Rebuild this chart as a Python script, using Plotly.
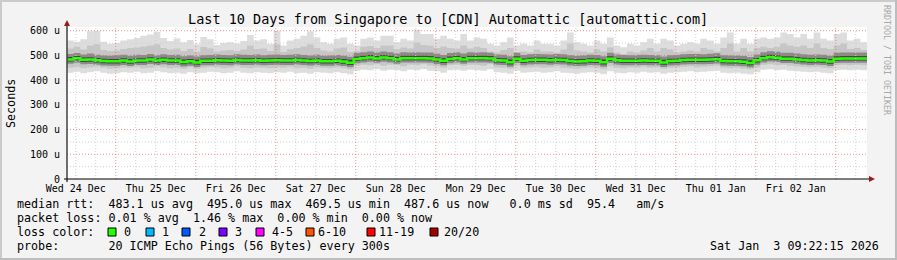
import plotly.graph_objects as go
from datetime import datetime, timedelta

# ---------------- data ----------------
end_time = datetime(2026, 1, 3, 9, 22, 15)
start_time = end_time - timedelta(days=10)
step_hours = 2

median_rtt = [
    484, 489, 482, 483, 480, 477, 476, 476, 479, 475,
    479, 479, 483, 479, 482, 479, 479, 473, 476, 471,
    478, 478, 480, 479, 478, 481, 479, 479, 480, 478,
    479, 480, 479, 479, 481, 479, 477, 479, 476, 476,
    478, 475, 470, 486, 489, 492, 488, 492, 489, 484,
    489, 489, 489, 489, 488, 483, 478, 486, 489, 484,
    489, 489, 489, 488, 480, 479, 472, 487, 478, 481,
    482, 482, 480, 482, 481, 477, 475, 476, 479, 478,
    472, 487, 480, 478, 478, 478, 479, 478, 478, 471,
    477, 478, 481, 482, 482, 482, 483, 485, 477, 476,
    476, 474, 469, 480, 489, 493, 491, 487, 487, 484,
    481, 479, 480, 479, 475, 487, 488, 488, 488, 488,
]

smoke_top_1 = [
    560, 555, 565, 598, 600, 555, 547, 550, 560, 565,
    570, 580, 585, 595, 570, 558, 568, 553, 562, 545,
    575, 565, 542, 550, 553, 548, 558, 583, 560, 565,
    547, 600, 540, 560, 567, 580, 598, 573, 553, 547,
    567, 573, 547, 540, 567, 573, 560, 580, 580, 553,
    567, 560, 605, 587, 587, 567, 580, 567, 560, 587,
    560, 573, 567, 547, 540, 553, 573, 540, 547, 540,
    560, 547, 547, 540, 560, 593, 553, 547, 540, 560,
    547, 573, 540, 533, 547, 540, 553, 567, 547, 567,
    560, 540, 547, 553, 547, 567, 560, 547, 573, 593,
    547, 567, 547, 567, 573, 567, 573, 593, 587, 573,
    587, 567, 593, 567, 560, 587, 593, 560, 567, 553,
]
smoke_bot_1 = [
    430, 434, 428, 432, 436, 430, 426, 428, 432, 430,
    434, 428, 430, 436, 432, 428, 430, 426, 432, 428,
    430, 434, 432, 428, 430, 436, 430, 428, 432, 430,
    428, 432, 430, 434, 428, 430, 426, 432, 430, 428,
    432, 428, 424, 438, 442, 440, 444, 438, 442, 440,
    436, 442, 440, 444, 438, 436, 430, 440, 442, 438,
    442, 440, 438, 444, 432, 430, 426, 438, 430, 432,
    434, 430, 432, 436, 430, 428, 426, 430, 432, 430,
    424, 436, 430, 428, 432, 430, 434, 430, 432, 426,
    430, 432, 434, 436, 432, 434, 436, 438, 430, 428,
    430, 426, 424, 432, 442, 444, 440, 442, 438, 436,
    434, 432, 434, 430, 428, 440, 442, 440, 442, 440,
]
smoke_top_2 = [
    528, 535, 524, 540, 545, 522, 518, 520, 526, 530,
    532, 536, 540, 545, 530, 524, 528, 518, 526, 515,
    534, 528, 516, 520, 522, 518, 524, 540, 526, 528,
    518, 545, 514, 525, 530, 536, 545, 530, 520, 516,
    528, 532, 514, 518, 535, 538, 530, 540, 540, 525,
    532, 528, 552, 542, 540, 530, 536, 530, 528, 540,
    528, 535, 530, 516, 512, 522, 530, 512, 516, 512,
    524, 516, 516, 512, 524, 548, 520, 516, 512, 524,
    516, 532, 512, 506, 516, 512, 520, 530, 516, 530,
    524, 512, 516, 520, 516, 530, 524, 516, 530, 548,
    516, 530, 516, 530, 535, 530, 535, 548, 540, 535,
    540, 530, 548, 530, 526, 540, 548, 526, 530, 522,
]
smoke_bot_2 = [
    450, 454, 448, 452, 455, 450, 446, 448, 452, 450,
    454, 448, 450, 456, 452, 448, 450, 446, 452, 446,
    450, 454, 452, 448, 450, 456, 450, 448, 452, 450,
    448, 452, 450, 454, 448, 450, 446, 452, 450, 448,
    452, 448, 444, 458, 462, 460, 464, 458, 462, 460,
    456, 462, 460, 464, 458, 456, 450, 460, 462, 458,
    462, 460, 458, 464, 452, 450, 446, 458, 450, 452,
    454, 450, 452, 456, 450, 448, 446, 450, 452, 450,
    444, 456, 450, 448, 452, 450, 454, 450, 452, 446,
    450, 452, 454, 456, 452, 454, 456, 458, 450, 448,
    450, 446, 444, 452, 462, 464, 460, 462, 458, 456,
    454, 452, 454, 450, 448, 460, 462, 460, 462, 460,
]
smoke_top_3 = [
    506, 510, 504, 508, 503, 500, 499, 501, 503, 499,
    503, 502, 506, 501, 505, 502, 503, 497, 500, 496,
    501, 502, 504, 502, 501, 505, 503, 502, 504, 501,
    503, 504, 502, 503, 505, 502, 500, 503, 499, 500,
    502, 499, 495, 510, 513, 516, 512, 516, 513, 508,
    513, 512, 513, 512, 512, 507, 502, 510, 513, 508,
    513, 512, 513, 511, 504, 503, 497, 511, 502, 505,
    506, 505, 504, 506, 505, 501, 499, 500, 503, 502,
    497, 511, 504, 502, 501, 502, 503, 502, 501, 496,
    501, 502, 505, 506, 506, 505, 507, 509, 501, 500,
    500, 498, 494, 504, 513, 517, 515, 511, 511, 508,
    505, 503, 504, 503, 499, 511, 512, 512, 512, 512,
]
smoke_bot_3 = [
    466, 470, 464, 465, 462, 459, 458, 458, 461, 457,
    461, 461, 465, 461, 464, 461, 461, 455, 458, 453,
    460, 460, 462, 461, 460, 463, 461, 461, 462, 460,
    461, 462, 461, 461, 463, 461, 459, 461, 458, 458,
    460, 457, 452, 468, 471, 474, 470, 474, 471, 466,
    471, 471, 471, 471, 470, 465, 460, 468, 471, 466,
    471, 471, 471, 470, 462, 461, 454, 469, 460, 463,
    464, 464, 462, 464, 463, 459, 457, 458, 461, 460,
    454, 469, 462, 460, 460, 460, 461, 460, 460, 453,
    459, 460, 463, 464, 464, 464, 465, 467, 459, 458,
    458, 456, 451, 462, 471, 475, 473, 469, 469, 466,
    463, 461, 462, 461, 457, 469, 470, 470, 470, 470,
]
smoke_top_4 = [
    494, 498, 492, 493, 490, 487, 486, 486, 489, 486,
    489, 489, 493, 489, 492, 489, 489, 484, 486, 482,
    488, 488, 490, 489, 488, 491, 489, 489, 490, 488,
    489, 490, 489, 489, 491, 489, 487, 489, 486, 486,
    488, 486, 482, 496, 499, 502, 498, 502, 499, 494,
    499, 499, 499, 499, 498, 493, 489, 496, 499, 494,
    499, 499, 499, 498, 490, 489, 483, 497, 488, 491,
    492, 492, 490, 492, 491, 487, 486, 486, 489, 488,
    483, 497, 490, 488, 488, 488, 489, 488, 488, 482,
    487, 488, 491, 492, 492, 492, 493, 495, 487, 486,
    486, 485, 480, 490, 499, 503, 501, 497, 497, 494,
    491, 489, 490, 489, 486, 497, 498, 498, 498, 498,
]
smoke_bot_4 = [
    475, 480, 473, 474, 471, 468, 467, 467, 470, 466,
    470, 470, 474, 470, 473, 470, 470, 464, 467, 462,
    469, 469, 471, 470, 469, 472, 470, 470, 471, 469,
    470, 471, 470, 470, 472, 470, 468, 470, 467, 467,
    469, 466, 461, 477, 480, 483, 479, 483, 480, 475,
    480, 480, 480, 480, 479, 474, 469, 477, 480, 475,
    480, 480, 480, 479, 471, 470, 463, 478, 469, 472,
    473, 473, 471, 473, 472, 468, 466, 467, 470, 469,
    463, 478, 471, 469, 469, 469, 470, 469, 469, 462,
    468, 469, 472, 473, 473, 473, 474, 476, 468, 467,
    467, 465, 460, 471, 480, 484, 482, 478, 478, 475,
    472, 470, 471, 470, 466, 478, 479, 479, 479, 479,
]

day_labels = ["Wed 24 Dec", "Thu 25 Dec", "Fri 26 Dec", "Sat 27 Dec", "Sun 28 Dec",
              "Mon 29 Dec", "Tue 30 Dec", "Wed 31 Dec", "Thu 01 Jan", "Fri 02 Jan"]
first_label_noon = datetime(2025, 12, 24, 12, 0, 0)
y_tick_vals = [0, 100, 200, 300, 400, 500, 600]
y_tick_text = ["0", "100 u", "200 u", "300 u", "400 u", "500 u", "600 u"]

title_text = "Last 10 Days from Singapore to [CDN] Automattic [automattic.com]"
legend_lines = [
    "median rtt:  483.1 us avg  495.0 us max  469.5 us min  487.6 us now   0.0 ms sd  95.4   am/s",
    "packet loss: 0.01 % avg  1.46 % max  0.00 % min  0.00 % now",
    "loss color:",
    "probe:       20 ICMP Echo Pings (56 Bytes) every 300s",
]
loss_labels = ["0", "1", "2", "3", "4-5", "6-10", "11-19", "20/20"]
loss_colors = ["#26ff00", "#00b8ff", "#0059ff", "#7e00ff", "#ff00ff", "#ff5500", "#ff0000", "#a10000"]
date_stamp = "Sat Jan  3 09:22:15 2026"
watermark = "RRDTOOL / TOBI OETIKER"

# ---------------- layout geometry (pixels) ----------------
FIG_W, FIG_H = 897, 260
L, T, W, H = 67, 27, 800, 152
Y_MAX = 615
MONO = "DejaVu Sans Mono, monospace"
LEG_SIZE = 11.7


def px(x):
    return (x - L) / W


def py(y):
    return (T + H - y) / H


def nb(s):
    return s.replace(" ", "\u00a0")


n = len(median_rtt)
edges = [start_time + timedelta(hours=step_hours * i) for i in range(n + 1)]


def ext(a):
    return list(a) + [a[-1]]


fig = go.Figure()

bands = [
    (smoke_bot_1, smoke_top_1, "#dddddd"),
    (smoke_bot_2, smoke_top_2, "#c6c6c6"),
    (smoke_bot_3, smoke_top_3, "#8a8a8a"),
    (smoke_bot_4, smoke_top_4, "#454545"),
]
for bot, top, col in bands:
    fig.add_trace(go.Scatter(x=edges, y=ext(bot), mode="lines",
                             line=dict(width=0, shape="hv"),
                             hoverinfo="skip", showlegend=False))
    fig.add_trace(go.Scatter(x=edges, y=ext(top), mode="lines",
                             line=dict(width=0, shape="hv"),
                             fill="tonexty", fillcolor=col,
                             hoverinfo="skip", showlegend=False))

fig.add_trace(go.Scatter(x=edges, y=ext(median_rtt), mode="lines",
                         line=dict(color="#26ff00", width=2.5, shape="hv"),
                         showlegend=False, name="median rtt"))

shapes = []
# horizontal grid
for v in range(50, 601, 50):
    major = v % 100 == 0
    shapes.append(dict(type="line", xref="paper", yref="y", x0=0, x1=1, y0=v, y1=v,
                       line=dict(color="rgba(240,110,110,0.75)" if major else "#cfcfcf",
                                 width=1, dash="1px,2px"), layer="above"))
# vertical grid
t = datetime(2025, 12, 24, 12, 0, 0)
while t < end_time:
    major = t.hour == 0
    shapes.append(dict(type="line", xref="x", yref="paper", x0=t, x1=t, y0=0, y1=1,
                       line=dict(color="rgba(240,110,110,0.75)" if major else "#cfcfcf",
                                 width=1, dash="1px,2px"), layer="above"))
    t += timedelta(hours=6)

# axes
axis_col = "#404040"
shapes.append(dict(type="line", xref="paper", yref="paper", x0=0, x1=0, y0=py(182), y1=py(24),
                   line=dict(color=axis_col, width=1.5), layer="above"))
shapes.append(dict(type="line", xref="paper", yref="paper", x0=px(64), x1=px(870), y0=0, y1=0,
                   line=dict(color="#000000", width=1), layer="above"))
arrow_col = "#9b1b1b"
shapes.append(dict(type="path", xref="paper", yref="paper",
                   path=f"M {px(64)} {py(26)} L {px(70)} {py(26)} L {px(67)} {py(20)} Z",
                   fillcolor=arrow_col, line=dict(width=0), layer="above"))
shapes.append(dict(type="path", xref="paper", yref="paper",
                   path=f"M {px(869)} {py(176)} L {px(869)} {py(182)} L {px(875)} {py(179)} Z",
                   fillcolor=arrow_col, line=dict(width=0), layer="above"))

# loss colour boxes
box_x = [108, 146, 182, 219, 256, 306, 367, 430]
lab_x = [123, 161, 198, 234, 271, 317, 378, 443]
for bx, col in zip(box_x, loss_colors):
    shapes.append(dict(type="rect", xref="paper", yref="paper",
                       x0=px(bx), x1=px(bx + 8), y0=py(236), y1=py(228),
                       fillcolor=col, line=dict(color="#000000", width=1), layer="above"))

# outer frame
shapes.append(dict(type="line", xref="paper", yref="paper", x0=px(0), x1=px(897), y0=py(1), y1=py(1),
                   line=dict(color="#cbcbcb", width=2)))
shapes.append(dict(type="line", xref="paper", yref="paper", x0=px(1), x1=px(1), y0=py(0), y1=py(260),
                   line=dict(color="#cbcbcb", width=2)))
shapes.append(dict(type="line", xref="paper", yref="paper", x0=px(0), x1=px(897), y0=py(259), y1=py(259),
                   line=dict(color="#bdbdbd", width=2)))
shapes.append(dict(type="line", xref="paper", yref="paper", x0=px(896), x1=px(896), y0=py(0), y1=py(260),
                   line=dict(color="#bdbdbd", width=2)))

annotations = []
annotations.append(dict(text=nb(title_text), xref="paper", yref="paper", x=px(448), y=py(19),
                        xanchor="center", yanchor="middle", showarrow=False,
                        font=dict(family=MONO, size=13.5, color="#000000")))
annotations.append(dict(text="Seconds", xref="paper", yref="paper", x=px(11), y=py(103),
                        xanchor="center", yanchor="middle", textangle=-90, showarrow=False,
                        font=dict(family=MONO, size=LEG_SIZE, color="#000000")))
annotations.append(dict(text=nb(watermark), xref="paper", yref="paper", x=px(887), y=py(60),
                        xanchor="center", yanchor="middle", textangle=90, showarrow=False,
                        font=dict(family=MONO, size=8.3, color="#a8a8a8")))
for i, line in enumerate(legend_lines):
    annotations.append(dict(text=nb(line), xref="paper", yref="paper", x=px(15), y=py(204 + 14 * i),
                            xanchor="left", yanchor="middle", showarrow=False,
                            font=dict(family=MONO, size=LEG_SIZE, color="#000000")))
for lx, lab in zip(lab_x, loss_labels):
    annotations.append(dict(text=lab, xref="paper", yref="paper", x=px(lx - 1), y=py(232),
                            xanchor="left", yanchor="middle", showarrow=False,
                            font=dict(family=MONO, size=LEG_SIZE, color="#000000")))
annotations.append(dict(text=nb(date_stamp), xref="paper", yref="paper", x=px(881), y=py(246),
                        xanchor="right", yanchor="middle", showarrow=False,
                        font=dict(family=MONO, size=LEG_SIZE, color="#000000")))

x_tick_vals = [first_label_noon + timedelta(days=i) for i in range(len(day_labels))]

fig.update_layout(
    width=FIG_W, height=FIG_H, autosize=False,
    margin=dict(l=L, r=FIG_W - L - W, t=T, b=FIG_H - T - H, pad=0),
    paper_bgcolor="#f3f3f3", plot_bgcolor="#ffffff",
    showlegend=False, shapes=shapes, annotations=annotations,
    xaxis=dict(range=[start_time, end_time], showgrid=False, zeroline=False, showline=False,
               tickvals=x_tick_vals, ticktext=day_labels, ticks="", ticklabelstandoff=2,
               tickfont=dict(family=MONO, size=10, color="#000000"), fixedrange=True),
    yaxis=dict(range=[0, Y_MAX], showgrid=False, zeroline=False, showline=False,
               tickvals=y_tick_vals, ticktext=y_tick_text, ticks="", ticklabelstandoff=6,
               tickfont=dict(family=MONO, size=10, color="#000000"), fixedrange=True),
)

fig.write_html("out.html", config={"displayModeBar": False})
